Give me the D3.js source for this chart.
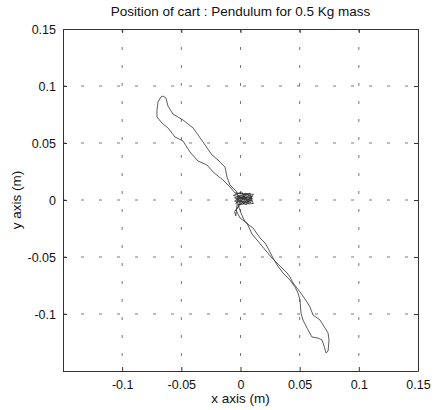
<!DOCTYPE html>
<html>
<head>
<meta charset="utf-8">
<script src="https://cdn.jsdelivr.net/npm/d3@7/dist/d3.min.js"></script>
<style>
  html, body { margin: 0; padding: 0; background: #fff; }
  svg { display: block; }
  text { font-family: "Liberation Sans", Arial, sans-serif; fill: #111; }
</style>
</head>
<body>
<svg id="chart" width="435" height="410"></svg>
<script>
// ---- data ----
const titleText = "Position of cart : Pendulum for 0.5 Kg mass";
const xLabelText = "x axis (m)";
const yLabelText = "y axis (m)";
const xDomain = [-0.15, 0.15];
const yDomain = [-0.15, 0.15];
const xTicks = [-0.15, -0.1, -0.05, 0, 0.05, 0.1, 0.15];
const yTicks = [-0.15, -0.1, -0.05, 0, 0.05, 0.1, 0.15];
const xTickLabels = ["", "-0.1", "-0.05", "0", "0.05", "0.1", "0.15"];
const yTickLabels = ["", "-0.1", "-0.05", "0", "0.05", "0.1", "0.15"];

// trajectory, [x, y] in metres
const clusterA = [
  [0.000, 0.002], [-0.004, 0.006], [0.008, 0.004], [0.010, 0.001], [-0.003, 0.003],
  [0.009, -0.002], [-0.005, -0.001], [0.006, 0.005], [0.011, -0.003], [-0.002, -0.004],
  [0.004, 0.006], [0.010, 0.003], [-0.004, 0.001], [0.007, -0.003], [0.001, 0.007],
  [-0.006, 0.004], [0.009, 0.000], [0.002, -0.003], [-0.003, 0.005]
];
const upperRight = [
  [-0.0030, 0.0070], [-0.0072, 0.0114], [-0.0089, 0.0132], [-0.0114, 0.0202],
  [-0.0131, 0.0289], [-0.0190, 0.0351], [-0.0241, 0.0395], [-0.0317, 0.0509],
  [-0.0401, 0.0632], [-0.0486, 0.0702], [-0.0571, 0.0754], [-0.0613, 0.0825],
  [-0.0630, 0.0895], [-0.0655, 0.0912], [-0.0672, 0.0904]
];
const upperLeft = [
  [-0.0697, 0.0860], [-0.0706, 0.0789], [-0.0706, 0.0728], [-0.0664, 0.0675],
  [-0.0613, 0.0632], [-0.0554, 0.0553], [-0.0486, 0.0518], [-0.0427, 0.0421],
  [-0.0359, 0.0342], [-0.0283, 0.0307], [-0.0232, 0.0246], [-0.0148, 0.0175],
  [-0.0089, 0.0114], [-0.0046, 0.0061]
];
const clusterB = [
  [0.011, 0.005], [0.005, -0.004], [-0.005, 0.002], [0.008, 0.006], [0.010, -0.001],
  [0.000, 0.002], [-0.004, -0.003], [0.006, 0.003], [-0.005, -0.010], [-0.004, -0.014],
  [-0.002, 0.004], [0.009, 0.002], [0.003, -0.002]
];
const lowerLeft = [
  [-0.0021, -0.0044], [0.0004, -0.0114], [0.0038, -0.0193], [0.0106, -0.0246],
  [0.0165, -0.0333], [0.0207, -0.0377], [0.0232, -0.0421], [0.0275, -0.0509],
  [0.0309, -0.0570], [0.0359, -0.0640], [0.0418, -0.0702], [0.0461, -0.0763],
  [0.0486, -0.0816], [0.0503, -0.0877], [0.0511, -0.0991], [0.0528, -0.1053],
  [0.0562, -0.1123], [0.0604, -0.1202], [0.0655, -0.1211], [0.0689, -0.1228],
  [0.0706, -0.1281], [0.0723, -0.1342], [0.0740, -0.1325], [0.0748, -0.1228],
  [0.0740, -0.1167]
];
const lowerRight = [
  [0.0714, -0.1123], [0.0672, -0.1053], [0.0613, -0.1009], [0.0587, -0.0939],
  [0.0562, -0.0895], [0.0503, -0.0807], [0.0444, -0.0728], [0.0418, -0.0675],
  [0.0393, -0.0640], [0.0334, -0.0579], [0.0266, -0.0509], [0.0182, -0.0404],
  [0.0097, -0.0298], [0.0055, -0.0202], [-0.0004, -0.0158], [-0.0038, -0.0088],
  [0.002, 0.001]
];
const trajectory = [].concat(clusterA, upperRight, upperLeft, clusterB, lowerLeft, lowerRight);

// ---- layout ----
const W = 435, H = 410;
const m = { left: 63, right: 17, top: 29, bottom: 39 };
const svg = d3.select("#chart");
const x = d3.scaleLinear().domain(xDomain).range([m.left, W - m.right]);
const y = d3.scaleLinear().domain(yDomain).range([H - m.bottom, m.top]);

const g = svg.append("g");

// grid
g.append("g").selectAll("line").data(xTicks.slice(1, -1)).join("line")
  .attr("x1", d => x(d)).attr("x2", d => x(d))
  .attr("y1", y.range()[1]).attr("y2", y.range()[0])
  .attr("stroke", "#555").attr("stroke-width", 0.8).attr("stroke-dasharray", "3,15");
g.append("g").selectAll("line").data(yTicks.slice(1, -1)).join("line")
  .attr("y1", d => y(d)).attr("y2", d => y(d))
  .attr("x1", x.range()[0]).attr("x2", x.range()[1])
  .attr("stroke", "#555").attr("stroke-width", 0.8).attr("stroke-dasharray", "3,15");

// axes (inward ticks)
const fmtX = (d, i) => xTickLabels[i];
const fmtY = (d, i) => yTickLabels[i];
const axB = g.append("g").attr("transform", `translate(0,${H - m.bottom})`)
  .call(d3.axisBottom(x).tickValues(xTicks).tickFormat(fmtX).tickSizeInner(-4).tickSizeOuter(0).tickPadding(9));
const axL = g.append("g").attr("transform", `translate(${m.left},0)`)
  .call(d3.axisLeft(y).tickValues(yTicks).tickFormat(fmtY).tickSizeInner(-4).tickSizeOuter(0).tickPadding(7));
const axT = g.append("g").attr("transform", `translate(0,${m.top})`)
  .call(d3.axisTop(x).tickValues(xTicks).tickFormat("").tickSizeInner(-4).tickSizeOuter(0));
const axR = g.append("g").attr("transform", `translate(${W - m.right},0)`)
  .call(d3.axisRight(y).tickValues(yTicks).tickFormat("").tickSizeInner(-4).tickSizeOuter(0));
[axB, axL, axT, axR].forEach(a => {
  a.select(".domain").attr("stroke", "#333").attr("stroke-width", 1);
  a.selectAll(".tick line").attr("stroke", "#333");
  a.selectAll("text").style("font-family", "'Liberation Sans', Arial, sans-serif")
    .style("font-size", "12.5px").attr("fill", "#111");
});

// trajectory
const line = d3.line().x(d => x(d[0])).y(d => y(d[1])).curve(d3.curveLinear);
g.append("path").datum(trajectory).attr("d", line)
  .attr("fill", "none").attr("stroke", "#333").attr("stroke-width", 0.8)
  .attr("stroke-linejoin", "round");

// labels
svg.append("text").attr("x", (x.range()[0] + x.range()[1]) / 2).attr("y", 16)
  .attr("text-anchor", "middle").style("font-size", "13.5px").text(titleText);
svg.append("text").attr("x", (x.range()[0] + x.range()[1]) / 2).attr("y", 403)
  .attr("text-anchor", "middle").style("font-size", "13.5px").text(xLabelText);
svg.append("text").attr("transform", `translate(21,${(y.range()[0] + y.range()[1]) / 2}) rotate(-90)`)
  .attr("text-anchor", "middle").style("font-size", "13.5px").text(yLabelText);
</script>
</body>
</html>
